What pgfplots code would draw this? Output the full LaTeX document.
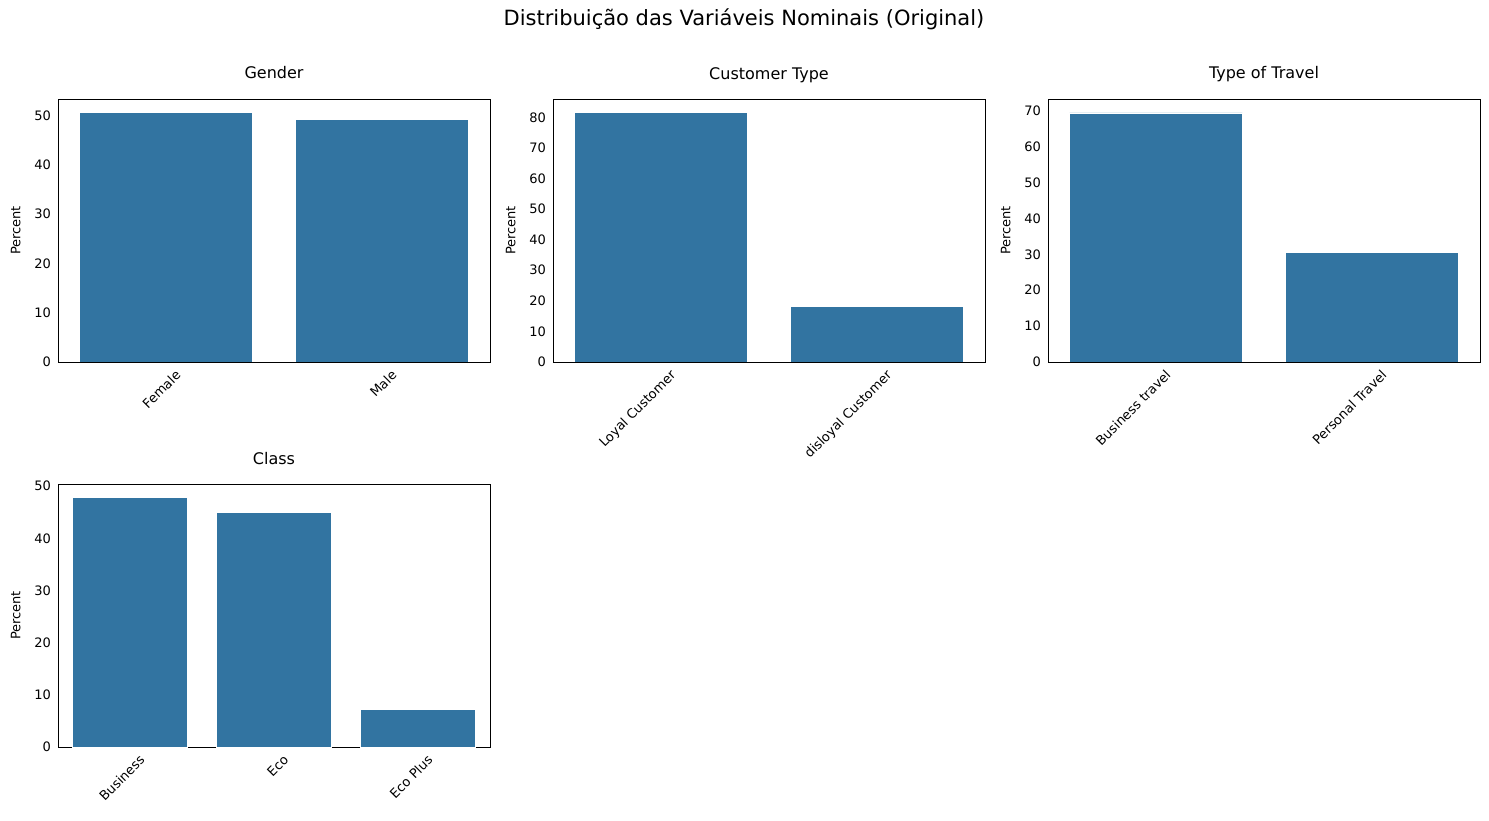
\documentclass[border=0pt]{standalone}
\usepackage{pgfplots}
\pgfplotsset{compat=1.18}
\usepackage{fontspec}
\setmainfont{DejaVu Sans}
\definecolor{bar}{HTML}{3274A1}
\pgfplotsset{
  base/.style={
    scale only axis, width=216pt, height=131.5pt,
    axis line style={black, line width=0.4pt},
    ybar, bar width=0.8, bar shift=0pt,
    ymin=0, xtick=data, tick style={draw=none},
    xticklabel style={rotate=45, anchor=north east, xshift=7pt, yshift=1pt, font=\fontsize{6.5}{8}\selectfont},
    yticklabel style={font=\fontsize{6.5}{8}\selectfont},
    /pgf/number format/assume math mode=true,
    ylabel={Percent}, ylabel style={font=\fontsize{6.5}{8}\selectfont},
    title style={font=\fontsize{8}{10}\selectfont, anchor=base, text height=6pt, text depth=1.5pt, at={(0.5,1)}, yshift=4pt},
    anchor=south west,
  },
  bars/.style={fill=bar, draw=white, line width=0.3pt},
}
\begin{document}
\begin{tikzpicture}[x=1pt,y=1pt]
\path (0,0) rectangle (744.5,410);
\node[font=\fontsize{10.5}{13}\selectfont] at (372,400.5) {Distribuição das Variáveis Nominais (Original)};
\begin{axis}[base, at={(29pt,229pt)}, title={Gender}, xmin=-0.5, xmax=1.5, ymax=53.4,
  xticklabels={Female,Male}, ytick={0,10,...,50}]
\addplot[bars] coordinates {(0,50.7) (1,49.3)};
\end{axis}
\begin{axis}[base, at={(276.5pt,229pt)}, title={Customer Type}, xmin=-0.5, xmax=1.5, ymax=86.0,
  xticklabels={Loyal Customer,disloyal Customer}, ytick={0,10,...,80}]
\addplot[bars] coordinates {(0,81.7) (1,18.3)};
\end{axis}
\begin{axis}[base, at={(524pt,229pt)}, title={Type of Travel}, xmin=-0.5, xmax=1.5, ymax=73.3,
  xticklabels={Business travel,Personal Travel}, ytick={0,10,...,70}]
\addplot[bars] coordinates {(0,69.4) (1,30.6)};
\end{axis}
\begin{axis}[base, at={(29pt,36.5pt)}, title={Class}, xmin=-0.5, xmax=2.5, ymax=50.4,
  xticklabels={Business,Eco,Eco Plus}, ytick={0,10,...,50}]
\addplot[bars] coordinates {(0,47.9) (1,44.9) (2,7.2)};
\end{axis}
\end{tikzpicture}
\end{document}
